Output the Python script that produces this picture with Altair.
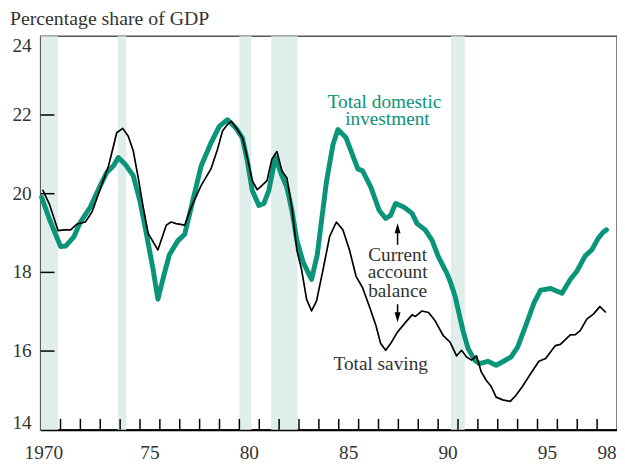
import altair as alt
import pandas as pd

# ---- data ----
inv_year = [1970.05, 1970.43, 1971.0, 1971.26, 1971.68, 1972.0, 1972.5, 1972.92, 1973.33, 1973.67,
            1973.91, 1974.25, 1974.66, 1974.99, 1975.32, 1975.66, 1975.9, 1976.23, 1976.48, 1976.9,
            1977.25, 1977.66, 1978.08, 1978.57, 1978.99, 1979.4, 1979.82, 1980.15, 1980.4, 1980.65,
            1980.98, 1981.23, 1981.48, 1981.81, 1982.14, 1982.39, 1982.64, 1982.89, 1983.22, 1983.63,
            1983.92, 1984.38, 1984.71, 1984.96, 1985.37, 1985.71, 1985.96, 1986.2, 1986.62, 1987.03,
            1987.36, 1987.61, 1987.86, 1988.27, 1988.69, 1988.94, 1989.35, 1989.69, 1990.01, 1990.43,
            1990.6, 1990.85, 1991.26, 1991.51, 1991.84, 1992.09, 1992.5, 1992.92, 1993.25, 1993.67,
            1994.0, 1994.41, 1994.83, 1995.16, 1995.66, 1996.23, 1996.65, 1996.98, 1997.4, 1997.73,
            1998.06, 1998.3, 1998.47]
inv_value = [19.91, 19.37, 18.66, 18.67, 18.91, 19.28, 19.66, 20.12, 20.54, 20.71,
             20.92, 20.75, 20.46, 19.83, 18.99, 18.07, 17.32, 17.98, 18.45, 18.8,
             18.97, 19.83, 20.71, 21.29, 21.71, 21.88, 21.67, 21.42, 20.83, 20.08,
             19.70, 19.75, 20.08, 20.92, 20.46, 20.16, 19.58, 18.82, 18.24, 17.82,
             18.45, 20.3, 21.25, 21.63, 21.42, 20.96, 20.63, 20.58, 20.16, 19.58,
             19.37, 19.45, 19.75, 19.66, 19.50, 19.24, 19.08, 18.82, 18.40, 17.99,
             17.78, 17.40, 16.5, 16.06, 15.77, 15.68, 15.74, 15.64, 15.73, 15.85,
             16.10, 16.65, 17.23, 17.55, 17.59, 17.47, 17.82, 18.03, 18.42, 18.57,
             18.87, 19.02, 19.08]

sav_year = [1970.1, 1970.43, 1970.88, 1971.18, 1971.51, 1971.84, 1972.25, 1972.59, 1973.0, 1973.42,
            1973.83, 1974.13, 1974.41, 1974.66, 1974.91, 1975.16, 1975.41, 1975.9, 1976.32, 1976.57,
            1976.82, 1977.25, 1977.58, 1978.08, 1978.57, 1978.9, 1979.15, 1979.4, 1979.6, 1979.9,
            1980.15, 1980.4, 1980.65, 1980.9, 1981.14, 1981.39, 1981.64, 1981.89, 1982.14, 1982.39,
            1982.64, 1982.89, 1983.13, 1983.38, 1983.63, 1983.88, 1984.21, 1984.54, 1984.88, 1985.21,
            1985.54, 1985.87, 1986.2, 1986.53, 1986.87, 1987.11, 1987.36, 1987.61, 1987.95, 1988.36,
            1988.69, 1988.86, 1989.19, 1989.52, 1989.85, 1990.26, 1990.6, 1990.93, 1991.18, 1991.43,
            1991.68, 1991.93, 1992.17, 1992.42, 1992.67, 1992.92, 1993.25, 1993.63, 1993.91, 1994.24,
            1994.66, 1995.07, 1995.41, 1995.9, 1996.15, 1996.65, 1996.9, 1997.15, 1997.48, 1997.81,
            1998.14, 1998.44]
sav_value = [20.10, 19.75, 19.06, 19.08, 19.08, 19.23, 19.28, 19.54, 20.12, 20.71,
             21.55, 21.66, 21.46, 21.09, 20.41, 19.66, 18.99, 18.57, 19.2, 19.28,
             19.24, 19.2, 19.66, 20.21, 20.63, 21.13, 21.59, 21.76, 21.84, 21.63,
             21.42, 20.92, 20.33, 20.10, 20.21, 20.33, 20.88, 21.07, 20.58, 20.40,
             19.66, 18.57, 18.07, 17.32, 17.02, 17.27, 18.07, 18.91, 19.28, 19.08,
             18.57, 17.90, 17.61, 17.15, 16.65, 16.19, 16.02, 16.19, 16.48, 16.73,
             16.92, 16.88, 17.02, 16.98, 16.77, 16.39, 16.23, 15.88, 16.02, 15.85,
             15.77, 15.88, 15.47, 15.26, 15.10, 14.83, 14.76, 14.72, 14.87, 15.10,
             15.43, 15.74, 15.81, 16.14, 16.17, 16.41, 16.42, 16.52, 16.81, 16.94,
             17.13, 16.98]

rec_start = [1970.0, 1973.88, 1980.0, 1981.6, 1990.65]
rec_end = [1970.88, 1974.31, 1980.6, 1982.93, 1991.34]

x_tick_years = list(range(1971, 1999))
y_tick_values = [16, 18, 20, 22]
y_label_pos = [14.18, 16, 18, 20, 22, 23.75]
y_label_text = ["14", "16", "18", "20", "22", "24"]
x_label_pos = [1970.16, 1975.5, 1980.5, 1985.5, 1990.5, 1995.5, 1998.5]
x_label_text = ["1970", "75", "80", "85", "90", "95", "98"]

TEAL = "#0a9479"
BAND = "#dfeeea"
TXT = "#333333"
FONT = "Liberation Serif"
W, H = 583, 398

xs = alt.Scale(domain=[1970, 1999], nice=False, zero=False)
ys = alt.Scale(domain=[14, 24], nice=False, zero=False)
x_axis = alt.Axis(labels=False, ticks=False, grid=False, title=None, domainColor="black", domainWidth=2)
y_axis = alt.Axis(labels=False, ticks=False, grid=False, title=None, domainColor="black", domainWidth=2)

bands_df = pd.DataFrame({"start": rec_start, "end": rec_end})
bands = alt.Chart(bands_df).mark_rect(color=BAND).encode(
    x=alt.X("start:Q", scale=xs, axis=x_axis),
    x2="end:Q",
    y=alt.value(0), y2=alt.value(H),
)

inv_df = pd.DataFrame({"year": inv_year, "value": inv_value})
sav_df = pd.DataFrame({"year": sav_year, "value": sav_value})

inv_line = alt.Chart(inv_df).mark_line(color=TEAL, strokeWidth=5, strokeJoin="round", strokeCap="round").encode(
    x=alt.X("year:Q", scale=xs, axis=x_axis),
    y=alt.Y("value:Q", scale=ys, axis=y_axis),
)
sav_line = alt.Chart(sav_df).mark_line(color="black", strokeWidth=1.7, strokeJoin="round").encode(
    x=alt.X("year:Q", scale=xs, axis=x_axis),
    y=alt.Y("value:Q", scale=ys, axis=y_axis),
)

xt = alt.Chart(pd.DataFrame({"yr": x_tick_years})).mark_rule(color="black", strokeWidth=1.5).encode(
    x=alt.X("yr:Q", scale=xs, axis=x_axis), y=alt.value(H), y2=alt.value(H - 11)
)
yt = alt.Chart(pd.DataFrame({"v": y_tick_values})).mark_rule(color="black", strokeWidth=1.5).encode(
    y=alt.Y("v:Q", scale=ys, axis=y_axis), x=alt.value(0), x2=alt.value(14)
)

xl = alt.Chart(pd.DataFrame({"pos": x_label_pos, "txt": x_label_text})).mark_text(
    font=FONT, fontSize=19.5, color=TXT, baseline="middle", align="center"
).encode(x=alt.X("pos:Q", scale=xs, axis=x_axis), y=alt.value(H + 24), text="txt:N")

yl = alt.Chart(pd.DataFrame({"pos": y_label_pos, "txt": y_label_text})).mark_text(
    font=FONT, fontSize=19.5, color=TXT, baseline="middle", align="right"
).encode(y=alt.Y("pos:Q", scale=ys, axis=y_axis), x=alt.value(-9), text="txt:N")

# annotations
ann_inv = pd.DataFrame({"x": [1987.3, 1987.45], "y": [22.34, 21.89], "t": ["Total domestic", "investment"]})
ann_cab = pd.DataFrame({"x": [1987.96, 1987.96, 1987.96], "y": [18.45, 18.0, 17.52],
                        "t": ["Current", "account", "balance"]})
ann_sav = pd.DataFrame({"x": [1987.11], "y": [15.68], "t": ["Total saving"]})

def txt(df, color):
    return alt.Chart(df).mark_text(font=FONT, fontSize=19.5, color=color, baseline="middle", align="center").encode(
        x=alt.X("x:Q", scale=xs, axis=x_axis), y=alt.Y("y:Q", scale=ys, axis=y_axis), text="t:N")

arrow_x = [1987.96]
shaft_df = pd.DataFrame({"x": arrow_x * 2, "y1": [19.12, 17.19], "y2": [18.70, 16.86]})
shafts = alt.Chart(shaft_df).mark_rule(color="black", strokeWidth=1.5).encode(
    x=alt.X("x:Q", scale=xs, axis=x_axis), y=alt.Y("y1:Q", scale=ys, axis=y_axis), y2="y2:Q")
head_up = alt.Chart(pd.DataFrame({"x": arrow_x, "y": [19.12]})).mark_point(
    shape="M0,-1L0.6,1L-0.6,1Z", size=100, filled=True, color="black", opacity=1).encode(
    x=alt.X("x:Q", scale=xs, axis=x_axis), y=alt.Y("y:Q", scale=ys, axis=y_axis))
head_dn = alt.Chart(pd.DataFrame({"x": arrow_x, "y": [16.86]})).mark_point(
    shape="M0,1L0.6,-1L-0.6,-1Z", size=100, filled=True, color="black", opacity=1).encode(
    x=alt.X("x:Q", scale=xs, axis=x_axis), y=alt.Y("y:Q", scale=ys, axis=y_axis))

title = alt.Chart(pd.DataFrame({"t": ["Percentage share of GDP"]})).mark_text(
    font=FONT, fontSize=20, color=TXT, align="left", baseline="middle").encode(
    text="t:N", x=alt.value(-31), y=alt.value(-17))

chart = alt.layer(
    bands, inv_line, sav_line, xt, yt, xl, yl,
    txt(ann_inv, TEAL), txt(ann_cab, TXT), txt(ann_sav, TXT),
    shafts, head_up, head_dn, title,
).properties(
    width=W, height=H,
    autosize=alt.AutoSizeParams(type="none"),
    padding={"left": 33, "top": 26, "right": 0, "bottom": 32},
).configure_view(stroke="#555555", strokeWidth=1.5)

chart.save("out.html", embed_options={"renderer": "svg", "actions": False})
